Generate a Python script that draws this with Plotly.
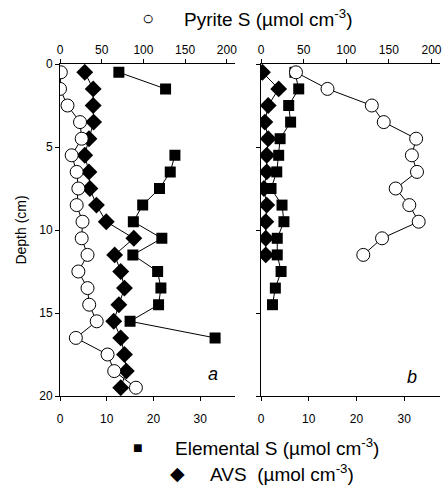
import plotly.graph_objects as go

# depth of each sample (cm)
depth = [0.5, 1.5, 2.5, 3.5, 4.5, 5.5, 6.5, 7.5, 8.5, 9.5,
         10.5, 11.5, 12.5, 13.5, 14.5, 15.5, 16.5, 17.5, 18.5, 19.5]

# panel a
pyrite_a = [1, 0, 9, 24, 26, 14, 20, 22, 20, 27,
            26, 33, 22, 33, 35, 44, 19, 57, 65, 91]
elemental_a = [12.6, 22.6, None, None, None, 24.6, 23.6, 21.3, 17.7, 15.7,
               21.8, 15.6, 20.9, 21.6, 21.1, 15.0, 33.2, None, None, None]
avs_a = [5.3, 7.1, 7.1, 7.2, 6.2, 5.3, 6.2, 6.4, 7.8, 9.9,
         15.8, 11.7, 13.0, 13.8, 12.6, 11.5, 13.0, 13.8, 14.2, 13.0]

# panel b
depth_b = depth[:15]
pyrite_b = [41, 78, 130, 144, 182, 177, 183, 158, 174, 185, 142, 120]
elemental_b = [7.1, 7.9, 5.8, 6.2, 4.0, 3.7, 3.3, 2.1, 4.4, 4.8,
               3.4, 3.4, 4.2, 3.0, 2.4]
avs_b = [0.3, 3.7, 1.5, 0.8, 1.5, 1.2, 1.2, 0.6, 1.2, 1.0, 1.0, 1.0]

FONT = "Liberation Sans, Arial, sans-serif"
line = dict(color="black", width=1)

fig = go.Figure()

for xa_top, xa_bot, ya, pyr, el, avs, d_el in [
    ("x3", "x", "y", pyrite_a, elemental_a, avs_a, depth),
    ("x4", "x2", "y2", pyrite_b, elemental_b, avs_b, depth_b),
]:
    fig.add_trace(go.Scatter(
        x=pyr, y=depth[:len(pyr)], xaxis=xa_top, yaxis=ya, mode="lines+markers",
        line=line, marker=dict(symbol="circle", size=13, color="white",
                               line=dict(color="black", width=1))))
    fig.add_trace(go.Scatter(
        x=el, y=d_el, xaxis=xa_bot, yaxis=ya, mode="lines+markers",
        line=line, connectgaps=False,
        marker=dict(symbol="square", size=11, color="black")))
    fig.add_trace(go.Scatter(
        x=avs, y=depth[:len(avs)], xaxis=xa_bot, yaxis=ya, mode="lines+markers",
        line=line, marker=dict(symbol="diamond", size=13, color="black")))

common = dict(showline=True, linecolor="black", linewidth=1, ticks="outside",
              ticklen=4, tickcolor="black", showgrid=False, zeroline=False,
              automargin=False, tickfont=dict(size=12, color="black"))
bottom_axis = dict(common, range=[0, 37.5], tickvals=[0, 10, 20, 30],
                   ticklabelstandoff=8)
top_axis = dict(common, range=[0, 210], tickvals=[0, 50, 100, 150, 200], side="top")
depth_axis = dict(common, range=[20, 0], tickvals=[0, 5, 10, 15, 20])

fig.update_layout(
    width=448, height=487,
    margin=dict(l=60, r=8, t=64, b=91),
    plot_bgcolor="white", paper_bgcolor="white",
    showlegend=False,
    font=dict(family=FONT, color="black"),
    xaxis=dict(bottom_axis, domain=[0, 0.461], anchor="y"),
    xaxis2=dict(bottom_axis, domain=[0.529, 1], anchor="y2"),
    xaxis3=dict(top_axis, overlaying="x", anchor="y"),
    xaxis4=dict(top_axis, overlaying="x2", anchor="y2"),
    yaxis=dict(depth_axis,
               title=dict(text="Depth (cm)", font=dict(size=14), standoff=9)),
    yaxis2=dict(depth_axis, showticklabels=False, anchor="x2"),
)

unit = " (\u00b5mol cm<sup>-3</sup>)"
ann = [
    dict(x=0.232, y=1.139, text="\u25cb", font=dict(size=20)),
    dict(x=0.321, y=1.139, text="Pyrite S" + unit, xanchor="left", font=dict(size=19)),
    dict(x=0.205, y=-0.154, text="\u25a0", font=dict(size=16)),
    dict(x=0.297, y=-0.154, text="Elemental S" + unit, xanchor="left", font=dict(size=19)),
    dict(x=0.308, y=-0.232, text="\u25c6", font=dict(size=19)),
    dict(x=0.389, y=-0.232, text="AVS " + unit, xanchor="left", font=dict(size=19)),
    dict(x=0.403, y=0.066, text="<i>a</i>", font=dict(size=18)),
    dict(x=0.926, y=0.057, text="<i>b</i>", font=dict(size=18)),
]
for a in ann:
    a.setdefault("xanchor", "center")
    fig.add_annotation(xref="paper", yref="paper", showarrow=False, yanchor="middle", **a)

# the page's default body margin would shift the figure by 8px
fig.write_html("out.html", config={"displayModeBar": False},
               post_script="document.body.style.margin='0';")
